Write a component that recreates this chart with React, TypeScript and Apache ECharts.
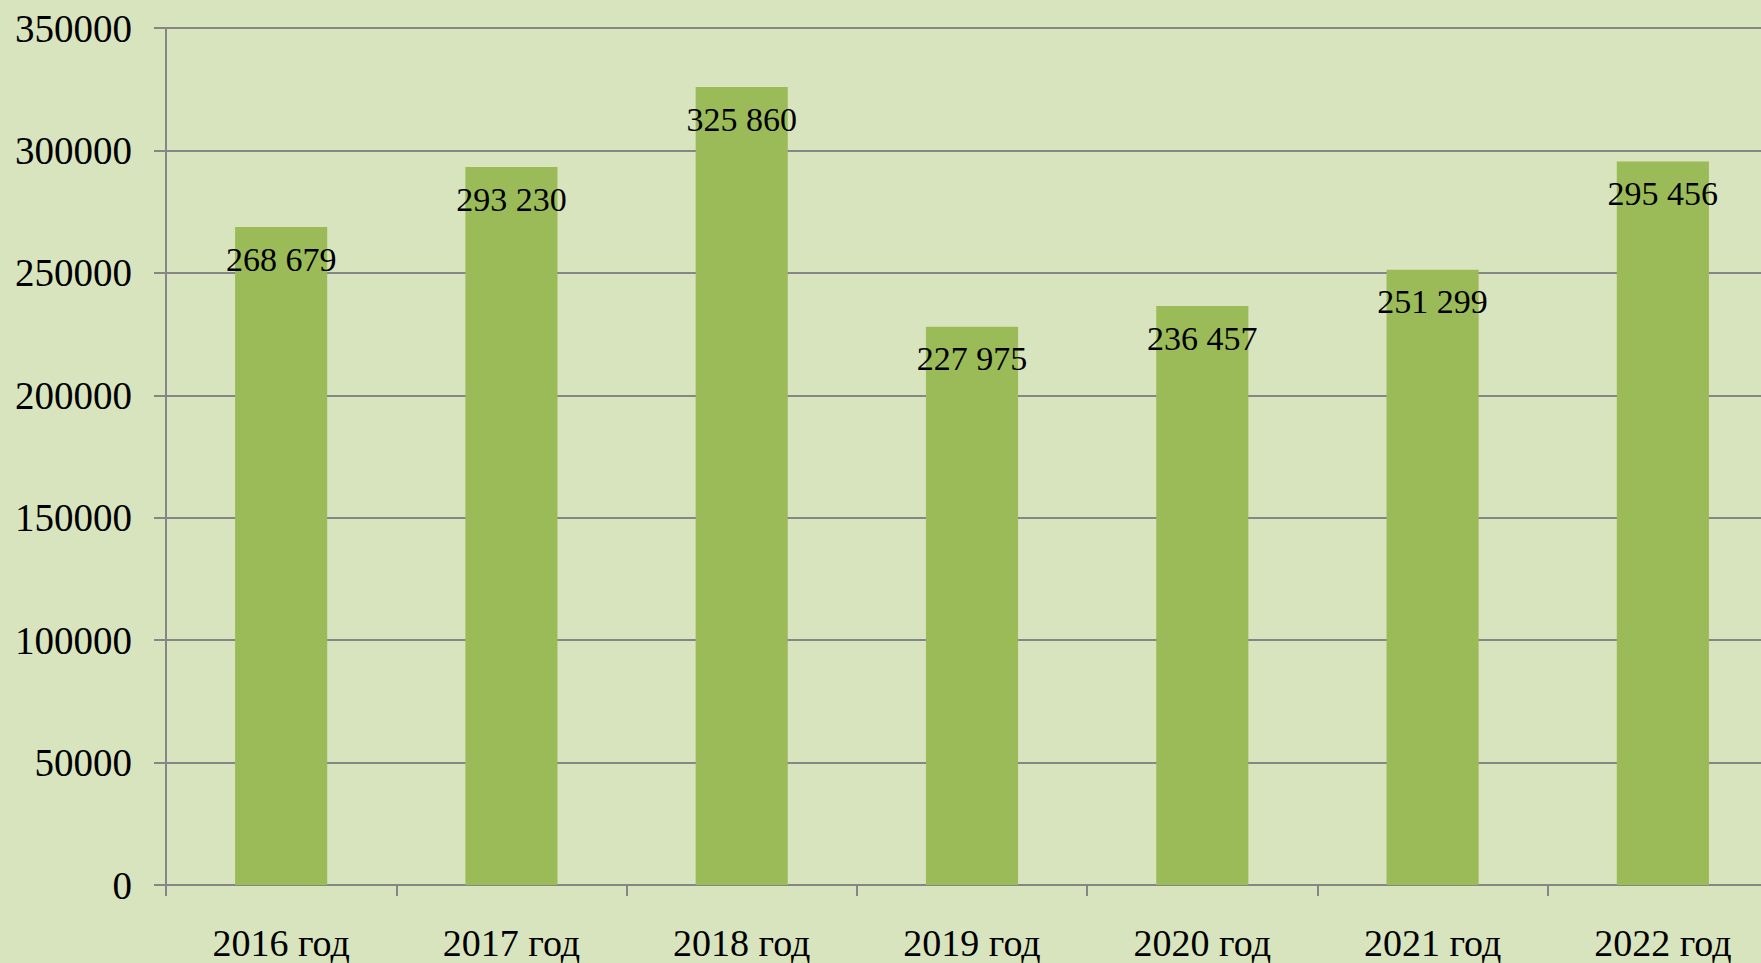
import React, { useEffect, useRef } from "react";
import * as echarts from "echarts";

const categories = ["2016 год", "2017 год", "2018 год", "2019 год", "2020 год", "2021 год", "2022 год"];
const values = [268679, 293230, 325860, 227975, 236457, 251299, 295456];
const yMin = 0;
const yMax = 350000;
const yInterval = 50000;

const fmt = (v: number) => {
  const s = String(Math.round(v));
  return s.replace(/\B(?=(\d{3})+(?!\d))/g, " ");
};

export default function App() {
  const ref = useRef<HTMLDivElement>(null);
  useEffect(() => {
    if (!ref.current) return;
    const chart = echarts.init(ref.current, null, { renderer: "svg" });
    const font = "'Liberation Serif', 'Times New Roman', serif";
    chart.setOption({
      animation: false,
      backgroundColor: "#d8e4bd",
      grid: { left: 166, top: 28, width: 1612, height: 857, containLabel: false },
      xAxis: {
        type: "category",
        data: categories,
        boundaryGap: true,
        axisLine: { show: true, lineStyle: { color: "#868686", width: 2 } },
        axisTick: { show: true, interval: 0, length: 11, lineStyle: { color: "#868686", width: 2 } },
        axisLabel: { interval: 0, margin: 39, color: "#000", fontFamily: font, fontSize: 38 },
        splitLine: { show: false },
      },
      yAxis: {
        type: "value",
        min: yMin,
        max: yMax,
        interval: yInterval,
        axisLine: { show: true, lineStyle: { color: "#868686", width: 2 } },
        axisTick: { show: true, length: 12, lineStyle: { color: "#868686", width: 2 } },
        axisLabel: { margin: 34, color: "#000", fontFamily: font, fontSize: 39, formatter: (v: number) => String(v) },
        splitLine: { show: true, lineStyle: { color: "#868686", width: 2 } },
      },
      series: [
        {
          type: "bar",
          data: values,
          barWidth: "40%",
          itemStyle: { color: "#9bbb59" },
          label: {
            show: true,
            position: "insideTop",
            distance: 15,
            color: "#000",
            fontFamily: font,
            fontSize: 34,
            formatter: (p: any) => fmt(p.value),
          },
        },
      ],
    });
    return () => chart.dispose();
  }, []);
  return (
    <div style={{ position: "fixed", left: 0, top: 0, width: 1761, height: 963, overflow: "hidden", background: "#d8e4bd" }}>
      <div ref={ref} style={{ width: 1800, height: 963 }} />
    </div>
  );
}
